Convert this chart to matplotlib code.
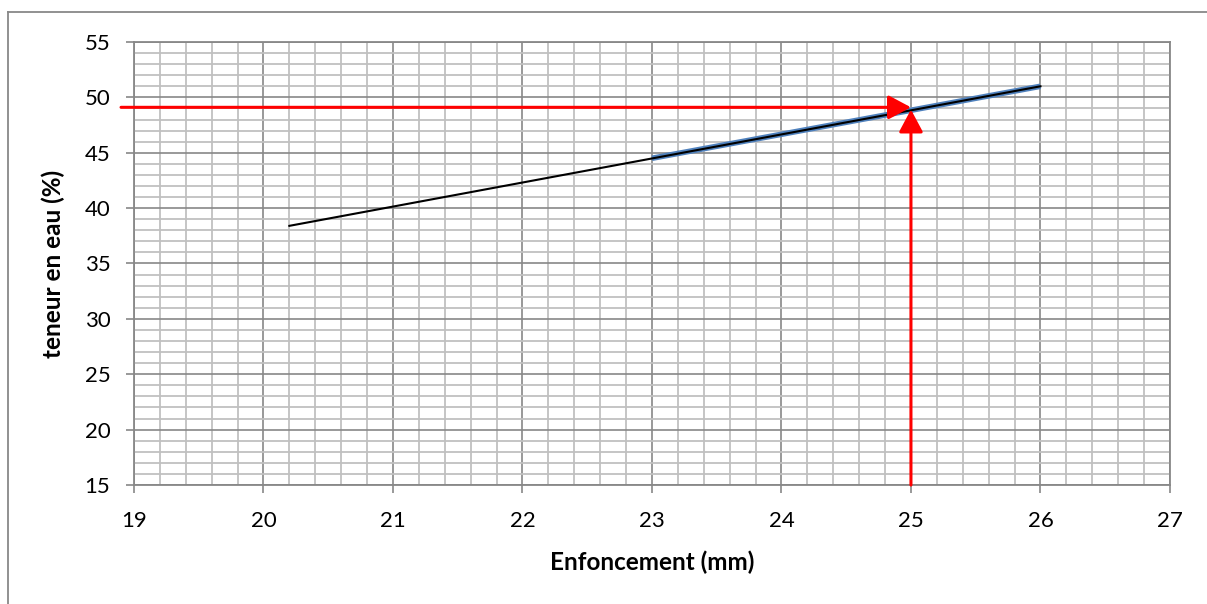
import matplotlib.pyplot as plt
from matplotlib.ticker import MultipleLocator
from matplotlib.lines import Line2D

plt.rcParams['font.family'] = ['Lato', 'DejaVu Sans']

# data
trend_x = [20.2, 26.0]
trend_y = [38.4, 51.0]
mesure_x = [23.0, 26.0]
mesure_y = [44.5, 51.0]
lecture_x = 25.0
lecture_y = 49.1
x_start = 18.9

fig = plt.figure(figsize=(12.07, 6.04), dpi=100)
ax = fig.add_axes([0.111, 0.197, 0.8583, 0.7335])

ax.set_xlim(19, 27)
ax.set_ylim(15, 55)
ax.xaxis.set_major_locator(MultipleLocator(1))
ax.xaxis.set_minor_locator(MultipleLocator(0.2))
ax.yaxis.set_major_locator(MultipleLocator(5))
ax.yaxis.set_minor_locator(MultipleLocator(1))

ax.grid(which='minor', color='#c0c0c0', lw=1.3, zorder=0)
ax.grid(which='major', color='#888888', lw=1.2, zorder=0)
ax.set_axisbelow(True)
for s in ax.spines.values():
    s.set_color('#888888')
    s.set_linewidth(1.3)

ax.tick_params(which='major', direction='out', length=6, width=1.2, color='#888888',
               labelsize=16)
ax.tick_params(axis='x', pad=13)
ax.tick_params(axis='y', pad=11)
ax.tick_params(which='minor', length=0)

# measured series (blue) and trend line (black)
ax.plot(mesure_x, mesure_y, color='#4f81bd', lw=4, solid_capstyle='butt', zorder=3)
ax.plot(trend_x, trend_y, color='black', lw=1.5, zorder=4)

# reading arrows
arrow = dict(arrowstyle='-|>,head_length=0.6,head_width=0.32', color='red',
             lw=2.2, mutation_scale=23, shrinkA=0, shrinkB=0)
ax.annotate('', xy=(lecture_x, lecture_y), xytext=(x_start, lecture_y),
            arrowprops=arrow, annotation_clip=False, zorder=5)
ax.annotate('', xy=(lecture_x, lecture_y - 0.2), xytext=(lecture_x, 15),
            arrowprops=arrow, annotation_clip=False, zorder=5)

ax.set_xlabel('Enfoncement (mm)', fontsize=17.5, fontweight='bold', labelpad=14)
ax.set_ylabel('teneur en eau (%)', fontsize=17.5, fontweight='bold', labelpad=14)

# outer chart frame (top and left edges visible)
fig.add_artist(Line2D([8 / 1207, 1.0], [1 - 12 / 604, 1 - 12 / 604],
                      transform=fig.transFigure, color='#888888', lw=1.3))
fig.add_artist(Line2D([8 / 1207, 8 / 1207], [0.0, 1 - 12 / 604],
                      transform=fig.transFigure, color='#888888', lw=1.3))

fig.savefig('out.png', dpi=100)
